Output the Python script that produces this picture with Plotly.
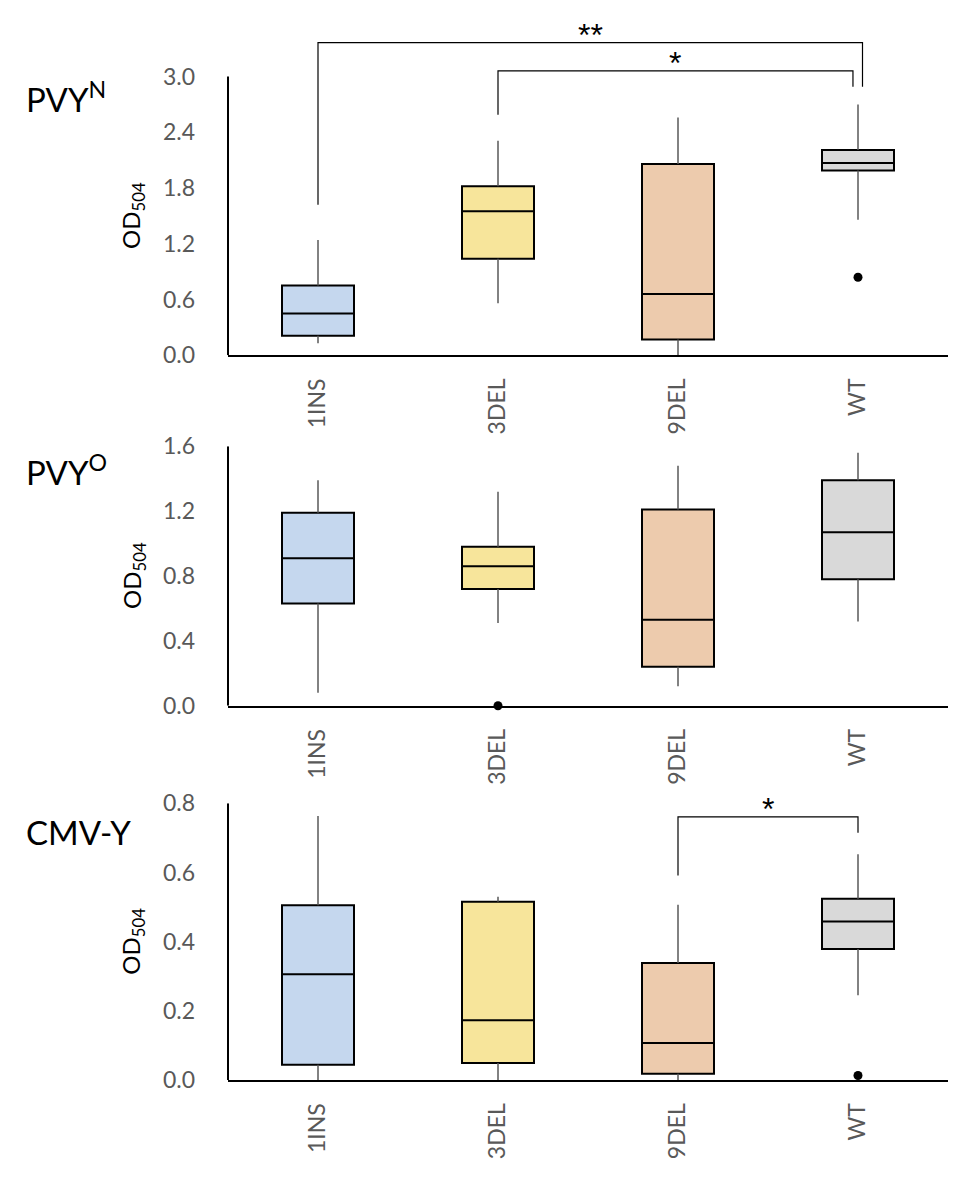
import plotly.graph_objects as go
from plotly.subplots import make_subplots

groups = ["1INS", "3DEL", "9DEL", "WT"]
fills = ["#C5D7EE", "#F7E59B", "#EDCBAD", "#D9D9D9"]

# PVY N
pvyn_low = [0.13, 0.56, 0.00, 1.46]
pvyn_q1 = [0.21, 1.04, 0.17, 1.99]
pvyn_med = [0.45, 1.55, 0.66, 2.07]
pvyn_q3 = [0.75, 1.82, 2.06, 2.21]
pvyn_high = [1.24, 2.31, 2.56, 2.70]
pvyn_out_grp = [3]
pvyn_out_val = [0.84]

# PVY O
pvyo_low = [0.08, 0.51, 0.12, 0.52]
pvyo_q1 = [0.63, 0.72, 0.24, 0.78]
pvyo_med = [0.91, 0.86, 0.53, 1.07]
pvyo_q3 = [1.19, 0.98, 1.21, 1.39]
pvyo_high = [1.39, 1.32, 1.48, 1.56]
pvyo_out_grp = [1]
pvyo_out_val = [0.0]

# CMV-Y
cmv_low = [0.0, 0.0, 0.0, 0.245]
cmv_q1 = [0.044, 0.049, 0.018, 0.379]
cmv_med = [0.306, 0.173, 0.107, 0.458]
cmv_q3 = [0.505, 0.515, 0.338, 0.524]
cmv_high = [0.763, 0.53, 0.507, 0.653]
cmv_out_grp = [3]
cmv_out_val = [0.013]

# significance brackets: (left group, right group, left leg end, right leg end, top, label)
pvyn_sig = [(0, 3, 1.62, 2.89, 3.366, "**"), (1, 3, 2.59, 2.89, 3.061, "*")]
pvyo_sig = []
cmv_sig = [(2, 3, 0.591, 0.715, 0.761, "*")]

titles = ["PVY<sup>N</sup>", "PVY<sup>O</sup>", "CMV-Y"]
y_ranges = [[0, 3.5], [0, 1.6], [0, 0.8]]
y_tops = [3.0, 1.6, 0.8]
y_dticks = [0.6, 0.4, 0.2]

# the page has an 8px body margin, so the figure is made smaller and positions shifted
OFF = 8
W, H = 975 - 2 * OFF, 1180 - 2 * OFF


def px_x(x):
    return (x - OFF) / W


def px_y(y):
    return (H - (y - OFF)) / H


# page pixel rows of each panel: (y of zero, y of range top)
panel_px = [(355.3, 30.1), (705.7, 446.3), (1080.0, 803.3)]
x_px = (228, 948)

panels = [
    (pvyn_low, pvyn_q1, pvyn_med, pvyn_q3, pvyn_high, pvyn_out_grp, pvyn_out_val, pvyn_sig),
    (pvyo_low, pvyo_q1, pvyo_med, pvyo_q3, pvyo_high, pvyo_out_grp, pvyo_out_val, pvyo_sig),
    (cmv_low, cmv_q1, cmv_med, cmv_q3, cmv_high, cmv_out_grp, cmv_out_val, cmv_sig),
]

fig = make_subplots(rows=3, cols=1)

font = "Lato, 'Open Sans', sans-serif"
grey = "#595959"

for p, (low, q1, med, q3, high, og, ov, sig) in enumerate(panels):
    row = p + 1
    sfx = "" if row == 1 else str(row)
    # whiskers
    for i in range(len(groups)):
        fig.add_trace(go.Scatter(
            x=[i, i, None, i, i], y=[low[i], q1[i], None, q3[i], high[i]],
            mode="lines", line=dict(color=grey, width=1.5),
            showlegend=False, hoverinfo="skip"), row=row, col=1)
    # boxes
    for i in range(len(groups)):
        fig.add_trace(go.Box(
            x=[i], q1=[q1[i]], median=[med[i]], q3=[q3[i]],
            lowerfence=[q1[i]], upperfence=[q3[i]],
            width=0.4, whiskerwidth=0, fillcolor=fills[i],
            line=dict(color="black", width=2),
            showlegend=False, hoverinfo="skip"), row=row, col=1)
    # outliers
    fig.add_trace(go.Scatter(
        x=og, y=ov, mode="markers", marker=dict(color="black", size=9),
        cliponaxis=False, showlegend=False, hoverinfo="skip"), row=row, col=1)
    # brackets
    for k, (a, b, ya, yb, top, lab) in enumerate(sig):
        shift_b = 0.0
        if p == 0:
            shift_b = 0.025 if k == 0 else -0.028
        fig.add_trace(go.Scatter(
            x=[a, a, b + shift_b, b + shift_b], y=[ya, top, top, yb],
            mode="lines", line=dict(color="black", width=1.2),
            showlegend=False, hoverinfo="skip"), row=row, col=1)
        fig.add_annotation(
            x=(a + b + shift_b) / 2, y=top, xref="x" + sfx, yref="y" + sfx,
            text=lab, showarrow=False, yanchor="bottom", yshift=-12,
            font=dict(family="Liberation Sans, Arial, sans-serif", size=32, color="black"))

    y0, y1 = panel_px[p]
    fig.update_layout({
        "xaxis" + sfx: dict(
            domain=[px_x(x_px[0]), px_x(x_px[1])], range=[-0.5, 3.5], automargin=False,
            tickvals=list(range(len(groups))), ticktext=groups,
            tickangle=-90, showgrid=False, zeroline=False,
            showline=True, linecolor="black", linewidth=2,
            ticks="", ticklabelstandoff=12,
            tickfont=dict(family=font, size=23, color=grey)),
        "yaxis" + sfx: dict(
            domain=[px_y(y0), px_y(y1)], range=y_ranges[p], automargin=False,
            tick0=0, dtick=y_dticks[p], tickformat=".1f",
            showgrid=False, zeroline=False, showline=False,
            ticks="", ticklabelstandoff=32,
            tickfont=dict(family=font, size=23, color=grey)),
    })
    # visible y-axis line up to the top tick
    fig.add_shape(type="line", xref="x" + sfx + " domain", yref="y" + sfx,
                  x0=0, x1=0, y0=0, y1=y_tops[p],
                  line=dict(color="black", width=2))
    # panel title
    title_px = [97, 470, 832][p]
    fig.add_annotation(x=px_x(24), y=px_y(title_px), xref="paper", yref="paper",
                       text=titles[p], showarrow=False, xanchor="left", yanchor="middle",
                       font=dict(family=font, size=33, color="black"))
    # y-axis label, centred on the visible axis
    top_px = y0 - (y0 - y1) * y_tops[p] / y_ranges[p][1]
    mid = (y0 + top_px) / 2
    fig.add_annotation(x=px_x(133), y=px_y(mid), xref="paper", yref="paper",
                       text="OD<sub>504</sub>", showarrow=False, textangle=-90,
                       xanchor="center", yanchor="middle",
                       font=dict(family=font, size=24, color="black"))

fig.update_layout(width=W, height=H, margin=dict(l=0, r=0, t=0, b=0, autoexpand=False),
                  plot_bgcolor="white", paper_bgcolor="white", boxmode="overlay")

fig.write_html("out.html")
